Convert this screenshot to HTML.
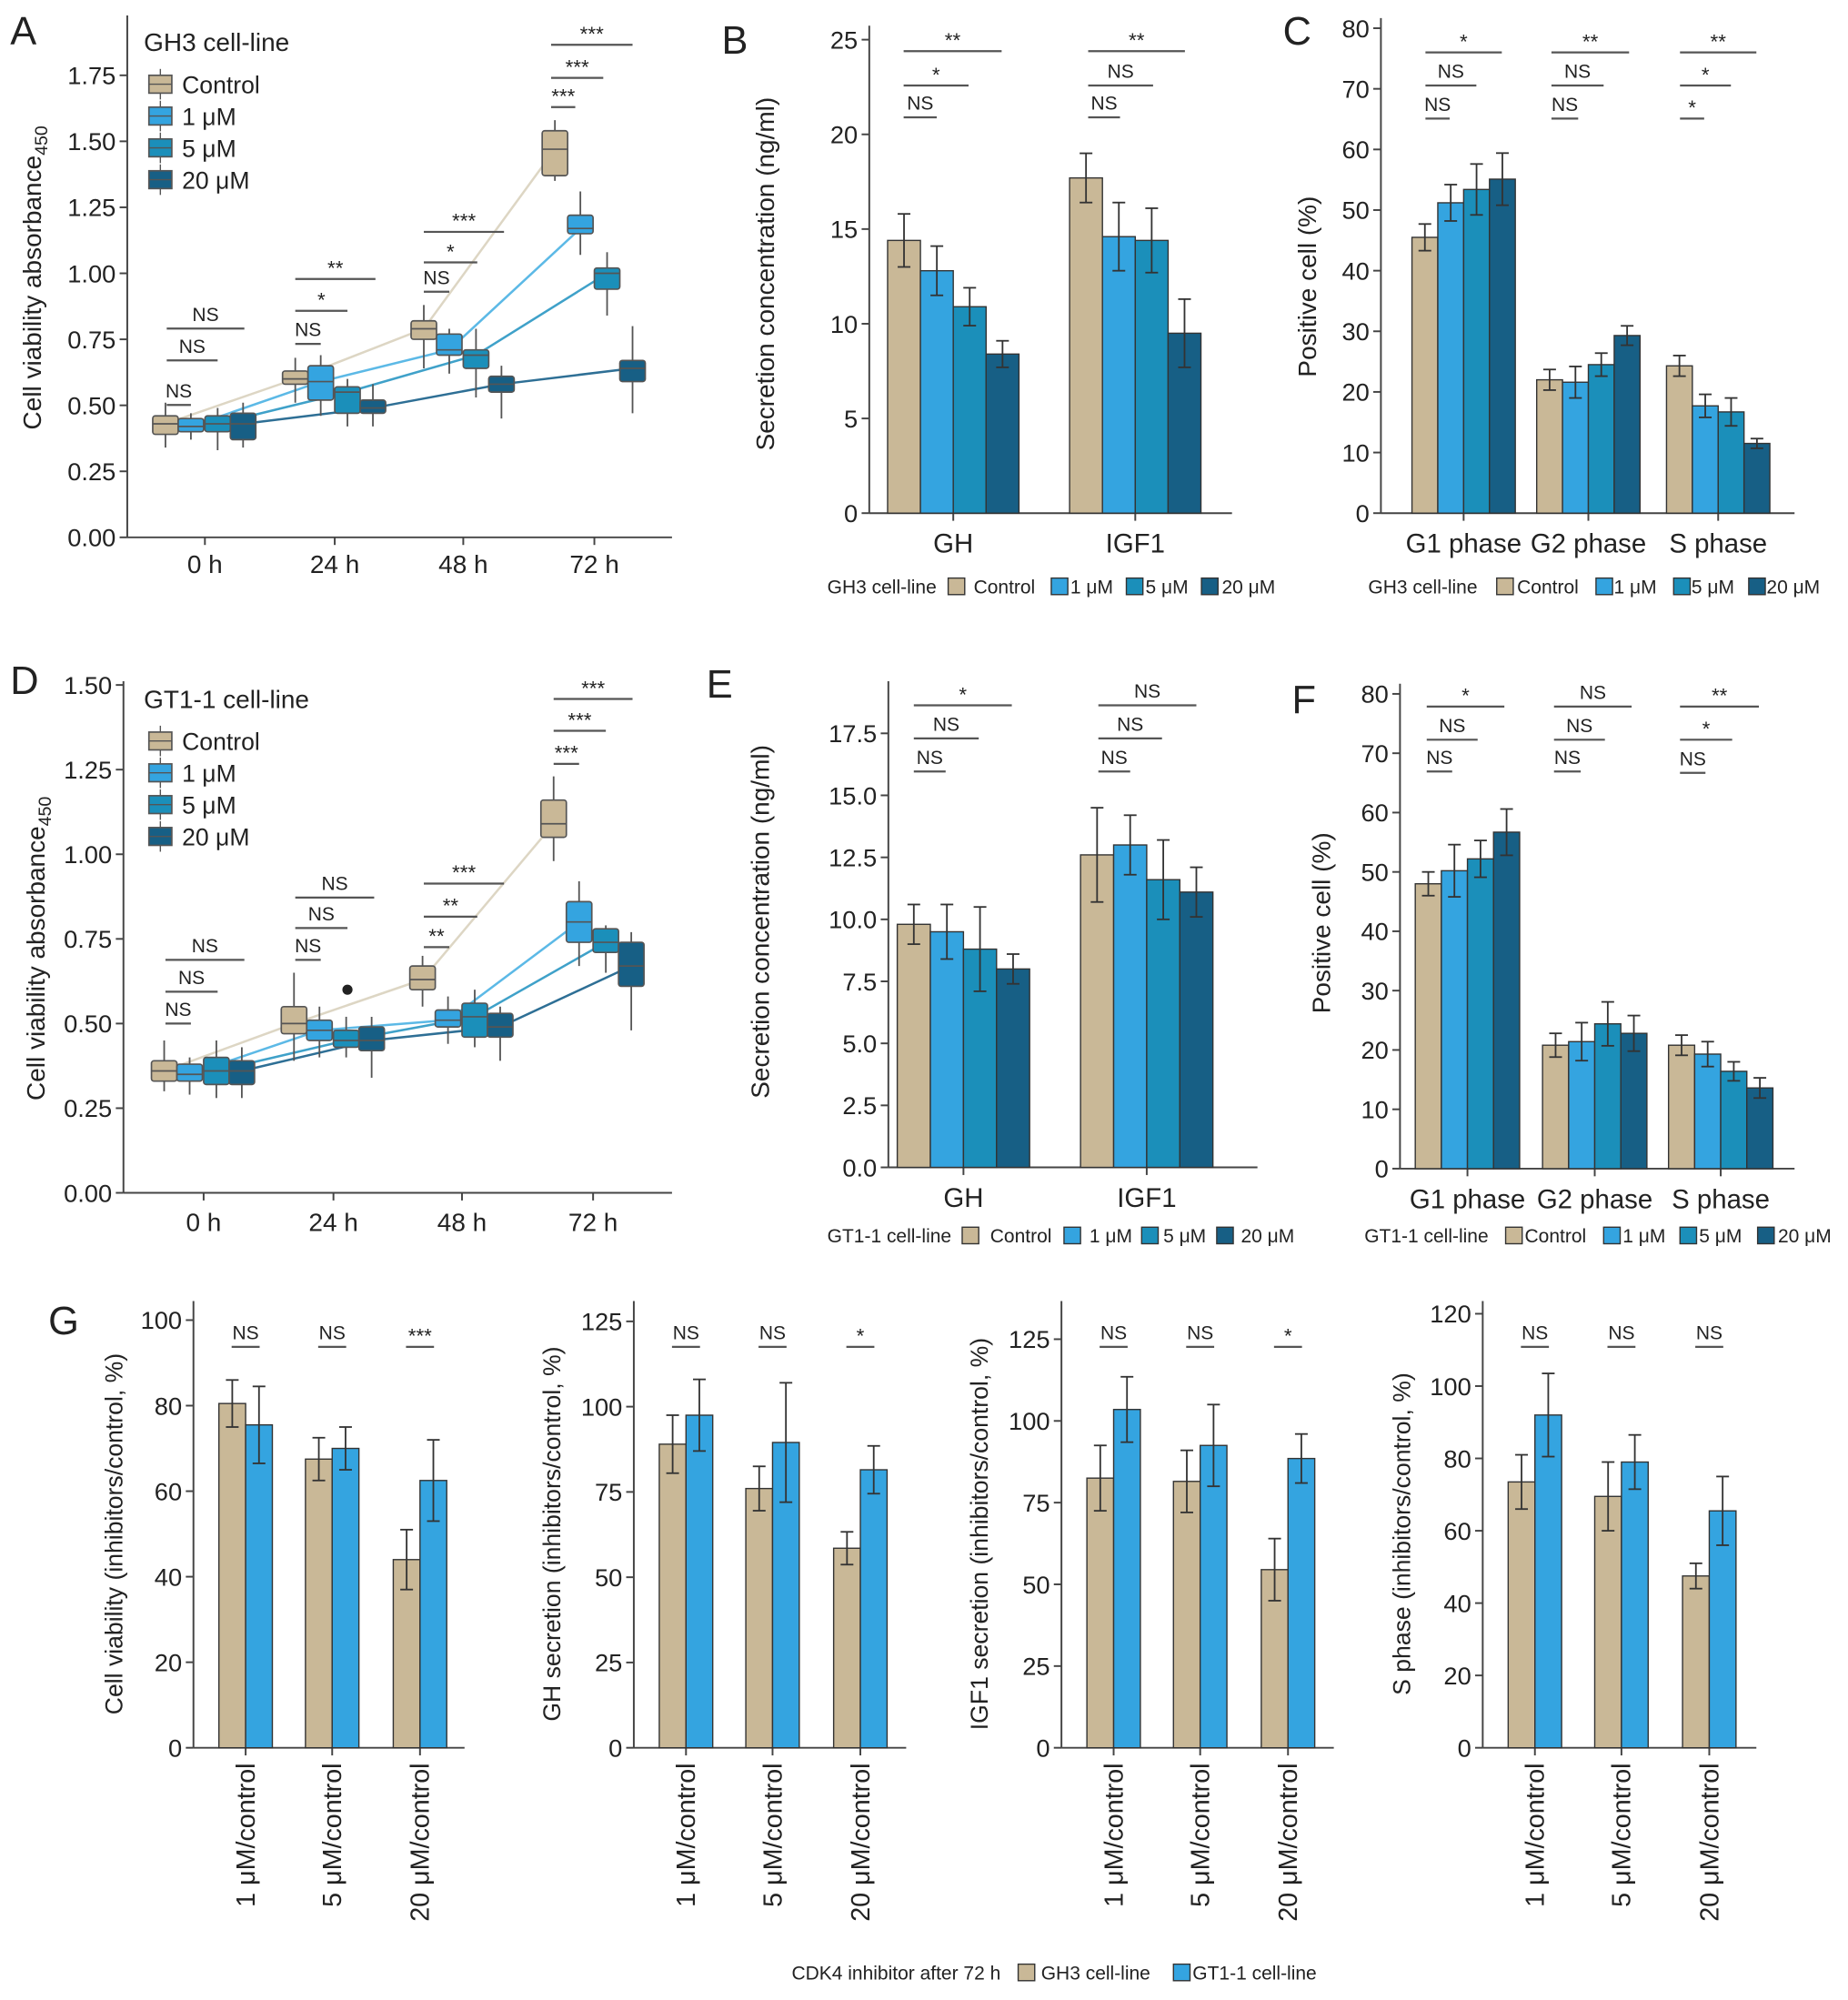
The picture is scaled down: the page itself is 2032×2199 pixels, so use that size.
<!DOCTYPE html>
<html><head><meta charset="utf-8">
<style>
html,body{margin:0;padding:0;background:#fff;}
svg{display:block;font-family:"Liberation Sans",Arial,sans-serif;}
</style></head>
<body>
<svg id="fig" xmlns="http://www.w3.org/2000/svg" width="2032" height="2199" viewBox="0 0 1452 1571">
<rect width="1452" height="1571" fill="#fff"/>
</svg>
<script>
// ===== DATA =====
const seriesNames = ["Control","1 μM","5 μM","20 μM"];
const timeCats = ["0 h","24 h","48 h","72 h"];
const aControl = [[0.43,0.39,0.46,0.34,0.51],[0.60,0.58,0.63,0.51,0.68],[0.79,0.75,0.82,0.64,0.88],[1.47,1.37,1.54,1.35,1.58]];
const a1uM = [[0.42,0.40,0.45,0.37,0.47],[0.59,0.52,0.65,0.46,0.69],[0.71,0.69,0.77,0.62,0.79],[1.17,1.15,1.22,1.07,1.31]];
const a5uM = [[0.43,0.40,0.46,0.33,0.49],[0.55,0.47,0.57,0.42,0.60],[0.69,0.64,0.71,0.53,0.79],[1.00,0.94,1.02,0.84,1.08]];
const a20uM = [[0.43,0.37,0.47,0.34,0.51],[0.49,0.47,0.52,0.42,0.58],[0.58,0.55,0.61,0.45,0.65],[0.64,0.59,0.67,0.47,0.80]];
const aTicks = ["0.00","0.25","0.50","0.75","1.00","1.25","1.50","1.75"];
const dControl = [[0.36,0.33,0.39,0.30,0.45],[0.50,0.47,0.55,0.39,0.65],[0.63,0.60,0.67,0.55,0.70],[1.09,1.05,1.16,0.98,1.23]];
const d1uM = [[0.35,0.33,0.38,0.29,0.40],[0.48,0.45,0.51,0.40,0.55],[0.51,0.49,0.54,0.44,0.58],[0.80,0.74,0.86,0.67,0.92]];
const d5uM = [[0.36,0.32,0.40,0.28,0.45],[0.45,0.43,0.48,0.40,0.52],[0.52,0.46,0.56,0.43,0.60],[0.74,0.71,0.78,0.65,0.79]];
const d20uM = [[0.36,0.32,0.39,0.28,0.43],[0.45,0.42,0.49,0.34,0.52],[0.49,0.46,0.53,0.39,0.55],[0.67,0.61,0.74,0.48,0.77]];
const dOutlier = 0.60;
const dTicks = ["0.00","0.25","0.50","0.75","1.00","1.25","1.50"];
const hormoneCats = ["GH","IGF1"];
const bValues = [[14.4,12.8,10.9,8.4],[17.7,14.6,14.4,9.5]];
const bErrors = [[1.4,1.3,1.0,0.7],[1.3,1.8,1.7,1.8]];
const bTicks = ["0","5","10","15","20","25"];
const phaseCats = ["G1 phase","G2 phase","S phase"];
const cValues = [[45.5,51.2,53.4,55.1],[22.0,21.6,24.5,29.3],[24.3,17.7,16.7,11.5]];
const cErrors = [[2.2,3.0,4.2,4.3],[1.7,2.6,1.9,1.6],[1.7,1.9,2.3,0.8]];
const cTicks = ["0","10","20","30","40","50","60","70","80"];
const eValues = [[9.8,9.5,8.8,8.0],[12.6,13.0,11.6,11.1]];
const eErrors = [[0.8,1.1,1.7,0.6],[1.9,1.2,1.6,1.0]];
const eTicks = ["0.0","2.5","5.0","7.5","10.0","12.5","15.0","17.5"];
const fValues = [[48.0,50.2,52.2,56.7],[20.8,21.4,24.4,22.8],[20.8,19.3,16.4,13.6]];
const fErrors = [[2.0,4.4,3.1,3.9],[2.0,3.2,3.7,3.0],[1.7,2.1,1.6,1.7]];
const ratioCats = ["1 μM/control","5 μM/control","20 μM/control"];
const gLines = ["GH3 cell-line","GT1-1 cell-line"];
const g1GH3 = [80.5,67.5,44.0], g1GH3Err=[5.5,5.0,7.0];
const g1GT1 = [75.5,70.0,62.5], g1GT1Err=[9.0,5.0,9.5];
const g2GH3 = [89.0,76.0,58.5], g2GH3Err=[8.5,6.5,4.8];
const g2GT1 = [97.5,89.5,81.5], g2GT1Err=[10.5,17.5,7.0];
const g3GH3 = [82.5,81.5,54.5], g3GH3Err=[10.0,9.5,9.5];
const g3GT1 = [103.5,92.5,88.5], g3GT1Err=[10.0,12.5,7.5];
const g4GH3 = [73.5,69.5,47.5], g4GH3Err=[7.5,9.5,3.5];
const g4GT1 = [92.0,79.0,65.5], g4GT1Err=[11.5,7.5,9.5];
const g1Ticks=["0","20","40","60","80","100"];
const g2Ticks=["0","25","50","75","100","125"];
const g4Ticks=["0","20","40","60","80","100","120"];
const g1Sig=["NS","NS","***"], g2Sig=["NS","NS","*"], g3Sig=["NS","NS","*"], g4Sig=["NS","NS","NS"];

// ===== RENDER =====
const COLORS=["#c9b897","#34a4e0","#1b8fba","#175f85"];
const LINECOLORS=["#ddd6c4","#5cb9e6","#3fa1c9","#2e6f95"];
const svg=document.getElementById('fig');
const NS='http://www.w3.org/2000/svg';
function mk(tag,attrs,name,parent){
  const e=document.createElementNS(NS,tag);
  for(const k in attrs) e.setAttribute(k,attrs[k]);
  
  
  (parent||svg).appendChild(e);
  return e;
}
function txt(x,y,s,size,name,opts){
  opts=opts||{};
  const t=mk('text',Object.assign({x:x,y:y,'font-size':size,fill:'#222','text-anchor':opts.anchor||'start'},opts.extra||{}),name,opts.parent);
  t.textContent=s;
  return t;
}
function yAxis(ax,ticks,name){
  const g=mk('g',{},name+'-y-axis');
  mk('line',{x1:ax.x,y1:ax.top,x2:ax.x,y2:ax.y0,stroke:'#444','stroke-width':1.4},'y-axis-line',g);
  ticks.forEach(tl=>{
    const v=parseFloat(tl), y=ax.sy(v);
    mk('line',{x1:ax.x-6,y1:y,x2:ax.x,y2:y,stroke:'#444','stroke-width':1.4},'y-tick',g);
    txt(ax.x-9,y+7,tl,ax.fs||19.5,'y-tick-label',{anchor:'end',parent:g});
  });
}
function xAxis(ax,cats,pos,ly,name,fs){
  const g=mk('g',{},name+'-x-axis');
  mk('line',{x1:ax.x,y1:ax.y0,x2:ax.xEnd,y2:ax.y0,stroke:'#444','stroke-width':1.4},'x-axis-line',g);
  cats.forEach((c,i)=>{
    mk('line',{x1:pos[i],y1:ax.y0,x2:pos[i],y2:ax.y0+6,stroke:'#444','stroke-width':1.4},'x-tick',g);
    txt(pos[i],ly,c,fs||20,'x-tick-label',{anchor:'middle',parent:g});
  });
}
function yTitle(x,y,s,name,fs,sub){
  const t=mk('text',{x:0,y:0,'font-size':fs||20,fill:'#222','text-anchor':'middle',transform:`translate(${x},${y}) rotate(-90)`},name);
  t.textContent=s;
  if(sub){const ts=mk('tspan',{'font-size':14,dy:5},'subscript',t);ts.textContent=sub;}
}
function sig(x1,x2,y,label,name){
  mk('line',{x1:x1,y1:y,x2:x2,y2:y,stroke:'#555','stroke-width':1.6},name+'-bracket');
  const star=label.indexOf('*')>=0;
  txt((x1+x2)/2,star?y-3:y-6,label,star?16:15,name+'-label',{anchor:'middle'});
}
function letter(x,y,s){txt(x,y,s,31,'panel-label-'+s.toLowerCase());}

function boxPanel(ax,series,offs,bw,name){
  series.forEach((ser,si)=>{
    const pts=ser.map((b,ti)=>(ax.cx[ti]+offs[si])+','+ax.sy(b[0])).join(' ');
    mk('polyline',{points:pts,fill:'none',stroke:LINECOLORS[si],'stroke-width':1.8},name+'-trend-'+si);
  });
  series.forEach((ser,si)=>{
    ser.forEach((b,ti)=>{
      const cx=ax.cx[ti]+offs[si];
      const g=mk('g',{},name+'-box-'+timeCats[ti].replace(' ','')+'-s'+si);
      mk('line',{x1:cx,y1:ax.sy(b[3]),x2:cx,y2:ax.sy(b[4]),stroke:'#555','stroke-width':1.3},'whisker',g);
      mk('rect',{x:cx-bw/2,y:ax.sy(b[2]),width:bw,height:ax.sy(b[1])-ax.sy(b[2]),fill:COLORS[si],stroke:'#555','stroke-width':1.2,rx:2},'box',g);
      mk('line',{x1:cx-bw/2,y1:ax.sy(b[0]),x2:cx+bw/2,y2:ax.sy(b[0]),stroke:'#555','stroke-width':1.2},'median',g);
    });
  });
}
function boxLegend(x,y,title){
  txt(x,y,title,20,'legend-title');
  seriesNames.forEach((s,i)=>{
    const cy=y+26+i*25;
    const g=mk('g',{},'legend-entry-'+i);
    mk('line',{x1:x+13,y1:cy-12,x2:x+13,y2:cy+12,stroke:'#555','stroke-width':1},'legend-whisker',g);
    mk('rect',{x:x+4,y:cy-7,width:18,height:14,fill:COLORS[i],stroke:'#555','stroke-width':1.2},'legend-swatch',g);
    mk('line',{x1:x+4,y1:cy,x2:x+22,y2:cy,stroke:'#555','stroke-width':1},'legend-median',g);
    txt(x+30,cy+7,s,19,'legend-text',{parent:g});
  });
}
function barPanel(ax,vals,errs,pos,bw,colors,name){
  vals.forEach((grp,ci)=>{
    const n=grp.length;
    grp.forEach((v,si)=>{
      const x=pos[ci]-n*bw/2+si*bw;
      const g=mk('g',{},name+'-bar-c'+ci+'-s'+si);
      mk('rect',{x:x,y:ax.sy(v),width:bw,height:ax.y0-ax.sy(v),fill:colors[si],stroke:'#333','stroke-width':1},'bar',g);
      const e=errs[ci][si], cx=x+bw/2;
      mk('line',{x1:cx,y1:ax.sy(v+e),x2:cx,y2:ax.sy(v-e),stroke:'#333','stroke-width':1.3},'error-bar',g);
      mk('line',{x1:cx-5,y1:ax.sy(v+e),x2:cx+5,y2:ax.sy(v+e),stroke:'#333','stroke-width':1.3},'error-cap',g);
      mk('line',{x1:cx-5,y1:ax.sy(v-e),x2:cx+5,y2:ax.sy(v-e),stroke:'#333','stroke-width':1.3},'error-cap',g);
    });
  });
}
function smallLegend(y,items){
  items.forEach(it=>{
    if(it.c!==undefined){
      mk('rect',{x:it.x,y:y-12,width:13,height:13,fill:COLORS[it.c],stroke:'#333','stroke-width':1},'legend-swatch');
    }
    txt(it.tx,y,it.t,15,'legend-text');
  });
}
function axis(x,xEnd,y0,top,vmax,ytop,cx){
  const k=(y0-ytop)/vmax;
  return {x:x,xEnd:xEnd,y0:y0,top:top,cx:cx,sy:v=>y0-v*k};
}

// Panel A
letter(8,35,'A');
const axA=axis(100,528,422,12,1.75,59,[161,263,364,467]);
yAxis(axA,aTicks,'a'); xAxis(axA,timeCats,axA.cx,450,'a');
yTitle(32,218,'Cell viability absorbance','a-y-title',20,'450');
boxPanel(axA,[aControl,a1uM,a5uM,a20uM],[-31,-11,10,30],20,'a');
boxLegend(113,40,'GH3 cell-line');
[[131,150,318,'NS'],[131,171,283,'NS'],[131,192,258,'NS'],[232,252,270,'NS'],[232,273,244,'*'],[232,295,219,'**'],
 [333,353,229,'NS'],[333,375,206,'*'],[333,396,182,'***'],[433,452,84,'***'],[433,474,61,'***'],[433,497,35,'***']].forEach(s=>sig(s[0],s[1],s[2],s[3],'a-sig'));

// Panel D
letter(8,545,'D');
const axD=axis(97,528,937,535,1.5,538,[160,262,363,466]);
yAxis(axD,dTicks,'d'); xAxis(axD,timeCats,axD.cx,967,'d');
yTitle(35,745,'Cell viability absorbance','d-y-title',20,'450');
boxPanel(axD,[dControl,d1uM,d5uM,d20uM],[-31,-11,10,30],20,'d');
mk('circle',{cx:273,cy:axD.sy(dOutlier),r:4,fill:'#222'},'d-outlier');
boxLegend(113,556,'GT1-1 cell-line');
[[130,150,804,'NS'],[130,171,779,'NS'],[130,192,754,'NS'],[232,252,754,'NS'],[232,273,729,'NS'],[232,294,705,'NS'],
 [333,353,744,'**'],[333,375,720,'**'],[333,396,694,'***'],[435,455,600,'***'],[435,476,574,'***'],[435,497,549,'***']].forEach(s=>sig(s[0],s[1],s[2],s[3],'d-sig'));

// Panel B
letter(567,42,'B');
const axB=axis(683,968,403,20,25,31,[749,892]);
yAxis(axB,bTicks,'b'); xAxis(axB,hormoneCats,axB.cx,434,'b',21);
yTitle(608,215,'Secretion concentration (ng/ml)','b-y-title');
barPanel(axB,bValues,bErrors,axB.cx,25.8,COLORS,'b');
[[710,736,92,'NS'],[710,761,67,'*'],[710,787,40,'**'],[855,880,92,'NS'],[855,906,67,'NS'],[855,931,40,'**']].forEach(s=>sig(s[0],s[1],s[2],s[3],'b-sig'));
smallLegend(466,[{tx:650,t:'GH3 cell-line'},{x:745,c:0,tx:765,t:'Control'},{x:826,c:1,tx:841,t:'1 μM'},{x:885,c:2,tx:900,t:'5 μM'},{x:944,c:3,tx:960,t:'20 μM'}]);

// Panel C
letter(1008,35,'C');
const axC=axis(1085,1410,403,14,80,22,[1150,1248,1350]);
yAxis(axC,cTicks,'c'); xAxis(axC,phaseCats,axC.cx,434,'c',21);
yTitle(1034,225,'Positive cell (%)','c-y-title');
barPanel(axC,cValues,cErrors,axC.cx,20.3,COLORS,'c');
[[1120,1139,93,'NS'],[1120,1160,67,'NS'],[1120,1180,41,'*'],[1219,1240,93,'NS'],[1219,1260,67,'NS'],[1219,1280,41,'**'],
 [1320,1339,93,'*'],[1320,1360,67,'*'],[1320,1380,41,'**']].forEach(s=>sig(s[0],s[1],s[2],s[3],'c-sig'));
smallLegend(466,[{tx:1075,t:'GH3 cell-line'},{x:1176,c:0,tx:1192,t:'Control'},{x:1254,c:1,tx:1268,t:'1 μM'},{x:1315,c:2,tx:1329,t:'5 μM'},{x:1374,c:3,tx:1388,t:'20 μM'}]);

// Panel E
letter(555,548,'E');
const axE=axis(698,988,917,535,17.5,576,[757,901]);
yAxis(axE,eTicks,'e'); xAxis(axE,hormoneCats,axE.cx,948,'e',21);
yTitle(604,724,'Secretion concentration (ng/ml)','e-y-title');
barPanel(axE,eValues,eErrors,axE.cx,26,COLORS,'e');
[[718,743,606,'NS'],[718,769,580,'NS'],[718,795,554,'*'],[863,888,606,'NS'],[863,913,580,'NS'],[863,940,554,'NS']].forEach(s=>sig(s[0],s[1],s[2],s[3],'e-sig'));
smallLegend(976,[{tx:650,t:'GT1-1 cell-line'},{x:756,c:0,tx:778,t:'Control'},{x:836,c:1,tx:856,t:'1 μM'},{x:897,c:2,tx:914,t:'5 μM'},{x:956,c:3,tx:975,t:'20 μM'}]);

// Panel F
letter(1015,560,'F');
const axF=axis(1100,1410,918,537,80,545,[1153,1253,1352]);
yAxis(axF,cTicks,'f'); xAxis(axF,phaseCats,axF.cx,949,'f',21);
yTitle(1045,725,'Positive cell (%)','f-y-title');
barPanel(axF,fValues,fErrors,axF.cx,20.5,COLORS,'f');
[[1121,1141,606,'NS'],[1121,1161,581,'NS'],[1121,1182,555,'*'],[1221,1242,606,'NS'],[1221,1261,581,'NS'],[1221,1282,555,'NS'],
 [1320,1340,607,'NS'],[1320,1361,581,'*'],[1320,1382,555,'**']].forEach(s=>sig(s[0],s[1],s[2],s[3],'f-sig'));
smallLegend(976,[{tx:1072,t:'GT1-1 cell-line'},{x:1183,c:0,tx:1198,t:'Control'},{x:1260,c:1,tx:1275,t:'1 μM'},{x:1320,c:2,tx:1335,t:'5 μM'},{x:1381,c:3,tx:1397,t:'20 μM'}]);

// Panel G
letter(38,1048,'G');
const GCOL=[COLORS[0],"#34a4e0"];
function gPanel(x,xEnd,vmax,ytop,ticks,gh,ghE,gt,gtE,title,tx,sigs,name){
  const cx=[x+41,x+109,x+178];
  const ax=axis(x,xEnd,1373,1022,vmax,ytop,cx);
  yAxis(ax,ticks,name);
  const g=mk('g',{},name+'-x-axis');
  mk('line',{x1:x,y1:1373,x2:xEnd,y2:1373,stroke:'#444','stroke-width':1.4},'x-axis-line',g);
  ratioCats.forEach((c,i)=>{
    mk('line',{x1:cx[i],y1:1373,x2:cx[i],y2:1379,stroke:'#444','stroke-width':1.4},'x-tick',g);
    const t=mk('text',{x:0,y:0,'font-size':20.5,fill:'#222','text-anchor':'end',transform:`translate(${cx[i]+7},1385) rotate(-90)`},'x-tick-label',g);
    t.textContent=c;
  });
  yTitle(tx,1205,title,name+'-y-title',19);
  const vals=gh.map((v,i)=>[v,gt[i]]), errs=ghE.map((v,i)=>[v,gtE[i]]);
  barPanel(ax,vals,errs,cx,21,GCOL,name);
  sigs.forEach((s,i)=>sig(cx[i]-11,cx[i]+11,1058,s,name+'-sig'));
}
gPanel(152,365,100,1037,g1Ticks,g1GH3,g1GH3Err,g1GT1,g1GT1Err,'Cell viability (inhibitors/control, %)',96,g1Sig,'g1');
gPanel(498,712,125,1038,g2Ticks,g2GH3,g2GH3Err,g2GT1,g2GT1Err,'GH secretion (inhibitors/control, %)',440,g2Sig,'g2');
gPanel(834,1048,125,1052,g2Ticks,g3GH3,g3GH3Err,g3GT1,g3GT1Err,'IGF1 secretion (inhibitors/control, %)',776,g3Sig,'g3');
gPanel(1165,1380,120,1032,g4Ticks,g4GH3,g4GH3Err,g4GT1,g4GT1Err,'S phase (inhibitors/control, %)',1108,g4Sig,'g4');
txt(622,1555,'CDK4 inhibitor after 72 h',15,'g-legend-title');
mk('rect',{x:800,y:1543,width:13,height:13,fill:GCOL[0],stroke:'#333','stroke-width':1},'legend-swatch');
txt(818,1555,gLines[0],15,'legend-text');
mk('rect',{x:922,y:1543,width:13,height:13,fill:GCOL[1],stroke:'#333','stroke-width':1},'legend-swatch');
txt(937,1555,gLines[1],15,'legend-text');
</script>
</body></html>
